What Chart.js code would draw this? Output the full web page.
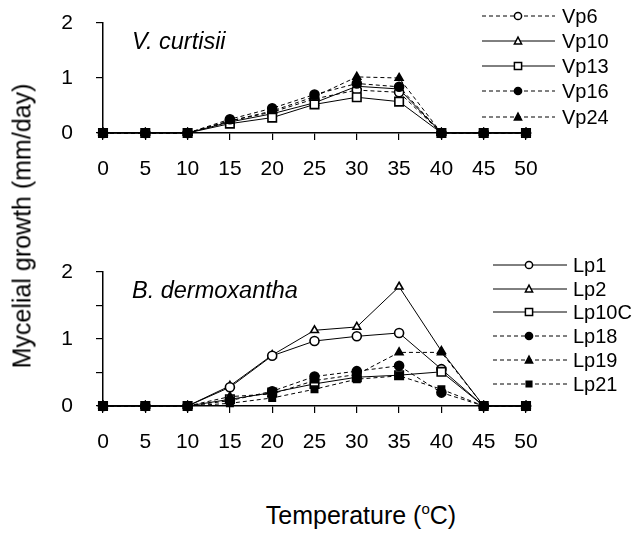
<!DOCTYPE html>
<html lang="en">
<head>
<meta charset="UTF-8">
<title>Mycelial growth vs temperature</title>
<script src="https://cdn.jsdelivr.net/npm/chart.js"></script>
<style>
    body {
        margin: 0;
        background: #fff;
        font-family: "Liberation Sans", Arial, sans-serif;
    }
    .wrap {
        position: relative;
        width: 632px;
        height: 533px;
        overflow: hidden;
    }
    #topChart { position: absolute; left: 0; top: 0; }
    #bottomChart { position: absolute; left: 0; top: 245px; }
    .ytitle {
        position: absolute;
        left: 22px;
        top: 226px;
        transform: translate(-50%, -50%) rotate(-90deg);
        font-size: 25px;
        white-space: nowrap;
        color: #000;
    }
    .xtitle {
        position: absolute;
        left: 361px;
        top: 515px;
        transform: translate(-50%, -50%);
        font-size: 25px;
        white-space: nowrap;
        color: #000;
    }
    .xtitle sup { font-size: 15px; }
</style>
</head>
<body>
<div class="wrap">
    <canvas id="topChart" width="632" height="200"></canvas>
    <canvas id="bottomChart" width="632" height="220"></canvas>
    <div class="ytitle">Mycelial growth (mm/day)</div>
    <div class="xtitle">Temperature (<sup>o</sup>C)</div>
</div>

<script>
    // temperatures (x) and growth rates (mm/day)
    const temps = [0, 5, 10, 15, 20, 25, 30, 35, 40, 45, 50];

    // V. curtisii
    const vp6  = [0, 0, 0, 0.22, 0.38, 0.62, 0.78, 0.74, 0, 0, 0];
    const vp10 = [0, 0, 0, 0.20, 0.35, 0.55, 0.85, 0.80, 0, 0, 0];
    const vp13 = [0, 0, 0, 0.17, 0.28, 0.52, 0.65, 0.57, 0, 0, 0];
    const vp16 = [0, 0, 0, 0.25, 0.45, 0.70, 0.90, 0.84, 0, 0, 0];
    const vp24 = [0, 0, 0, 0.22, 0.40, 0.66, 1.02, 1.00, 0, 0, 0];

    // B. dermoxantha
    const lp1  = [0, 0, 0, 0.28, 0.75, 0.97, 1.04, 1.09, 0.55, 0, 0];
    const lp2  = [0, 0, 0, 0.30, 0.76, 1.13, 1.18, 1.78, 0.82, 0, 0];
    const lp10 = [0, 0, 0, 0.10, 0.20, 0.33, 0.43, 0.46, 0.51, 0, 0];
    const lp18 = [0, 0, 0, 0.08, 0.22, 0.44, 0.52, 0.60, 0.20, 0, 0];
    const lp19 = [0, 0, 0, 0.14, 0.18, 0.38, 0.47, 0.80, 0.80, 0, 0];
    const lp21 = [0, 0, 0, 0.04, 0.12, 0.25, 0.40, 0.45, 0.25, 0, 0];

    const xTicks = [0, 5, 10, 15, 20, 25, 30, 35, 40, 45, 50];
    const yTicks = [0, 1, 2];

    Chart.defaults.font.family = '"Liberation Sans", Arial, sans-serif';
    Chart.defaults.color = '#000';

    // order: lower value is drawn on top
    function series(label, values, style, filled, dashed, order, radius) {
        return {
            label: label,
            data: temps.map((t, i) => ({ x: t, y: values[i] })),
            borderColor: '#000',
            borderWidth: 1,
            borderDash: dashed ? [4, 3] : [],
            pointStyle: style,
            pointRadius: radius || (style === 'rect' ? 6 : 4.5),
            pointBorderColor: '#000',
            pointBorderWidth: 1.6,
            pointBackgroundColor: filled ? '#000' : '#fff',
            tension: 0,
            clip: false,
            order: order
        };
    }

    // small marker for the legend rows
    function drawMarker(ctx, style, x, y, r, fill) {
        ctx.beginPath();
        if (style === 'circle') {
            ctx.arc(x, y, r, 0, Math.PI * 2);
        } else if (style === 'triangle') {
            ctx.moveTo(x, y - r * 1.1);
            ctx.lineTo(x + r, y + r * 0.8);
            ctx.lineTo(x - r, y + r * 0.8);
            ctx.closePath();
        } else {
            ctx.rect(x - r, y - r, 2 * r, 2 * r);
        }
        ctx.fillStyle = fill;
        ctx.fill();
        ctx.lineWidth = 1.5;
        ctx.strokeStyle = '#000';
        ctx.stroke();
    }

    const sideLegend = {
        id: 'sideLegend',
        afterDraw(chart, args, opts) {
            const ctx = chart.ctx;
            ctx.save();
            chart.data.datasets.forEach((ds, i) => {
                const y = opts.rows[i];
                ctx.beginPath();
                ctx.setLineDash(ds.borderDash);
                ctx.lineWidth = 1;
                ctx.strokeStyle = '#000';
                ctx.moveTo(opts.x0, y);
                ctx.lineTo(opts.x1, y);
                ctx.stroke();
                ctx.setLineDash([]);
                const r = ds.pointRadius < 5 && ds.pointStyle === 'rect' ? 2.8 : 3.6;
                drawMarker(ctx, ds.pointStyle, opts.xm, y, r, ds.pointBackgroundColor);
                ctx.fillStyle = '#000';
                ctx.font = '20px "Liberation Sans", Arial, sans-serif';
                ctx.textBaseline = 'middle';
                ctx.fillText(ds.label, opts.xt, y + 1);
            });
            ctx.font = 'italic 23.5px "Liberation Sans", Arial, sans-serif';
            ctx.textBaseline = 'alphabetic';
            ctx.fillText(opts.title, opts.tx, opts.ty);
            ctx.restore();
        }
    };

    function panelOptions(padTop, padRight, xHeight, legendOpts) {
        return {
            responsive: false,
            animation: false,
            layout: { padding: { top: padTop, right: padRight, left: 0, bottom: 0 } },
            plugins: {
                legend: { display: false },
                tooltip: { enabled: false },
                sideLegend: legendOpts
            },
            scales: {
                x: {
                    type: 'linear',
                    min: 0,
                    max: 50,
                    afterFit: s => { s.height = xHeight; },
                    afterBuildTicks: s => { s.ticks = xTicks.map(v => ({ value: v })); },
                    ticks: { font: { size: 21 }, padding: 17, maxRotation: 0 },
                    grid: { drawOnChartArea: false, drawTicks: true, tickLength: 7, color: '#000', lineWidth: 1.2 },
                    border: { color: '#000', width: 1.5 }
                },
                y: {
                    min: 0,
                    max: 2,
                    afterFit: s => {
                        s.width = 103;
                        s.paddingTop = 0;
                        s.paddingBottom = 0;
                    },
                    ticks: {
                        stepSize: 0.5,
                        font: { size: 21 },
                        padding: 23,
                        callback: v => yTicks.includes(v) ? String(v) : ''
                    },
                    grid: { drawOnChartArea: false, drawTicks: true, tickLength: 7, color: '#000', lineWidth: 1.2 },
                    border: { color: '#000', width: 1.5 }
                }
            }
        };
    }

    new Chart(document.getElementById('topChart'), {
        type: 'line',
        data: {
            datasets: [
                series('Vp6', vp6, 'circle', false, true, 3),
                series('Vp10', vp10, 'triangle', false, false, 3),
                series('Vp13', vp13, 'rect', false, false, 2),
                series('Vp16', vp16, 'circle', true, true, 1),
                series('Vp24', vp24, 'triangle', true, true, 0)
            ]
        },
        options: panelOptions(23, 106, 67, {
            rows: [16, 41, 66, 91, 117],
            x0: 482, x1: 555, xm: 518, xt: 562,
            title: 'V. curtisii', tx: 132, ty: 49
        }),
        plugins: [sideLegend]
    });

    new Chart(document.getElementById('bottomChart'), {
        type: 'line',
        data: {
            datasets: [
                series('Lp1', lp1, 'circle', false, false, 3),
                series('Lp2', lp2, 'triangle', false, false, 3),
                series('Lp10C', lp10, 'rect', false, false, 2),
                series('Lp18', lp18, 'circle', true, true, 1),
                series('Lp19', lp19, 'triangle', true, true, 1),
                series('Lp21', lp21, 'rect', true, true, 0, 4.5)
            ]
        },
        options: panelOptions(27, 106, 59, {
            rows: [20, 44, 67, 91, 115, 139],
            x0: 493, x1: 567, xm: 529, xt: 573,
            title: 'B. dermoxantha', tx: 132, ty: 53
        }),
        plugins: [sideLegend]
    });
</script>
</body>
</html>
